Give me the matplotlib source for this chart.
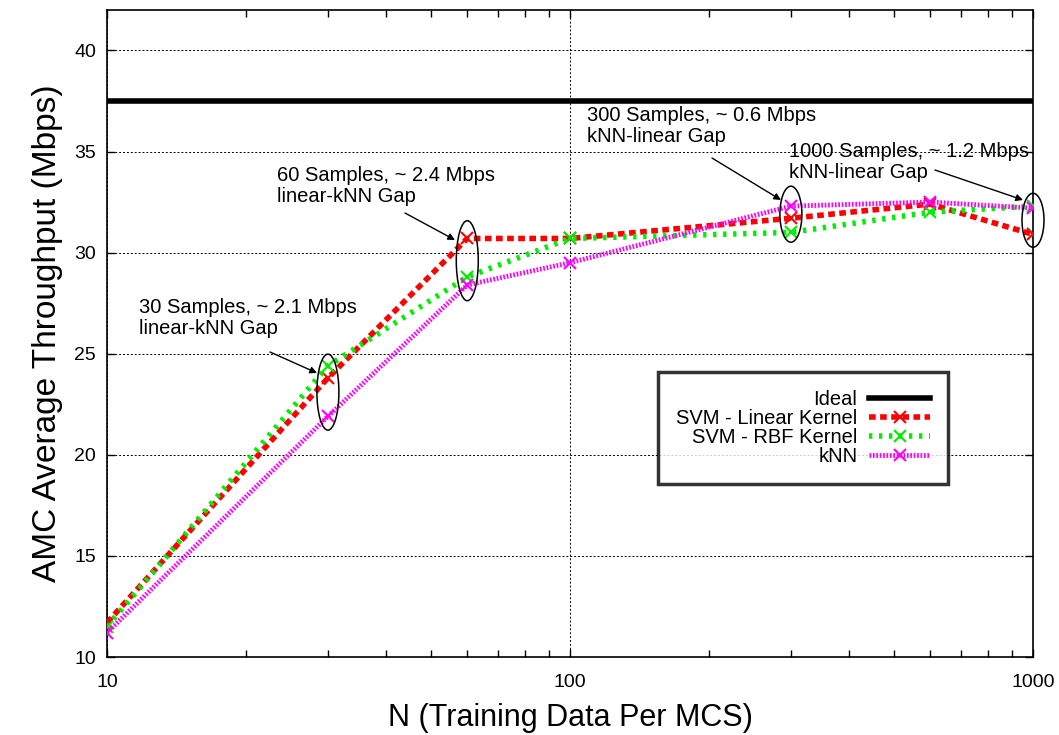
import numpy as np
import matplotlib
matplotlib.use('Agg')
import matplotlib.pyplot as plt
from matplotlib.patches import Ellipse
from matplotlib.transforms import ScaledTranslation
from matplotlib.ticker import FixedLocator, NullFormatter

plt.rcParams['font.family'] = ['Liberation Sans', 'DejaVu Sans']

# data
n_train = [10, 30, 60, 100, 300, 600, 1000]
ideal = 37.5
svm_linear = [11.7, 23.8, 30.7, 30.7, 31.7, 32.4, 30.9]
svm_rbf = [11.5, 24.4, 28.8, 30.7, 31.0, 32.0, 32.3]
knn = [11.2, 21.9, 28.4, 29.5, 32.3, 32.5, 32.2]

# (x, y center, width px, height px)
circles = [(30, 23.1, 22, 76), (60, 29.6, 22, 80), (300, 31.9, 22, 56), (1000, 31.6, 22, 54)]
# text, text top-left (px), arrow start (px), arrow end (px)
notes = [
    ("30 Samples, ~ 2.1 Mbps\nlinear-kNN Gap", (139, 298), (270, 352), (317, 373)),
    ("60 Samples, ~ 2.4 Mbps\nlinear-kNN Gap", (277, 166), (405, 213), (455, 240)),
    ("300 Samples, ~ 0.6 Mbps\nkNN-linear Gap", (587, 106), (712, 158), (781, 200)),
    ("1000 Samples, ~ 1.2 Mbps\nkNN-linear Gap", (789, 142), (935, 170), (1023, 200)),
]

W, H = 1059, 735
fig = plt.figure(figsize=(W / 100, H / 100), dpi=100)
ax = fig.add_axes([107 / W, 1 - 657 / H, (1033 - 107) / W, (657 - 10) / H])
ax.set_xscale('log')
ax.set_xlim(10, 1000)
ax.set_ylim(10, 42)

ax.axhline(ideal, color='black', lw=4, label='Ideal', zorder=3)
ax.plot(n_train, svm_linear, color='#ff0000', lw=4, ls=(0, (1.2, 0.8)), marker='x',
        ms=9, mew=1.5, label='SVM - Linear Kernel', zorder=4)
ax.plot(n_train, svm_rbf, color='#00ee00', lw=4, ls=(0, (0.6, 1.2)), marker='x',
        ms=9, mew=1.5, label='SVM - RBF Kernel', zorder=4)
ax.plot(n_train, knn, color='#ff00ff', lw=3.5, ls=(0, (0.35, 0.35)), marker='x',
        ms=9, mew=1.5, label='kNN', zorder=4)

ax.set_yticks(np.arange(10, 41, 5))
ax.set_xticks([10, 100, 1000])
ax.set_xticklabels(['10', '100', '1000'])
minors = [m * d for d in (10, 100) for m in range(2, 10)]
ax.xaxis.set_minor_locator(FixedLocator(minors))
ax.xaxis.set_minor_formatter(NullFormatter())
ax.tick_params(which='both', direction='in', top=True, right=True, labelsize=14)
ax.tick_params(which='major', length=6, width=1)
ax.tick_params(which='minor', length=5, width=1)
ax.tick_params(axis='x', pad=12)
ax.tick_params(axis='y', pad=8)
ax.grid(True, which='major', color='black', ls=(0, (2, 2)), lw=0.7)
for s in ax.spines.values():
    s.set_linewidth(1.2)

ax.set_xlabel('N (Training Data Per MCS)', fontsize=22, labelpad=9)
ax.set_ylabel('AMC Average Throughput (Mbps)', fontsize=24, labelpad=8)

for xc, yc, w, h in circles:
    tr = fig.dpi_scale_trans + ScaledTranslation(xc, yc, ax.transData)
    ax.add_patch(Ellipse((0, 0), w / 100, h / 100, transform=tr, fill=False,
                         ec='black', lw=1.1, zorder=5, clip_on=False))

def to_data(px, py):
    return ax.transData.inverted().transform(fig.transFigure.transform((px / W, 1 - py / H)))

for txt, pos, start, end in notes:
    ax.text(*to_data(*pos), txt, fontsize=14.5, ha='left', va='top',
            linespacing=1.1, zorder=6)
    ax.annotate('', xy=to_data(*end), xytext=to_data(*start),
                arrowprops=dict(arrowstyle='-|>', color='black', lw=1.0,
                                mutation_scale=10, shrinkA=0, shrinkB=0), zorder=6)

leg = ax.legend(loc='upper left', bbox_to_anchor=((658 - 107) / (1033 - 107), (657 - 372) / (657 - 10)),
                markerfirst=False, fontsize=14.5, frameon=True, fancybox=False,
                handlelength=3.0, borderpad=0.9, labelspacing=0.0, borderaxespad=0,
                handletextpad=0.6, alignment='right')
leg.get_frame().set_edgecolor('black')
leg.get_frame().set_linewidth(2.5)
for t in leg.get_texts():
    t.set_ha('right')
leg.set_zorder(7)

fig.savefig('out.png', dpi=100)
